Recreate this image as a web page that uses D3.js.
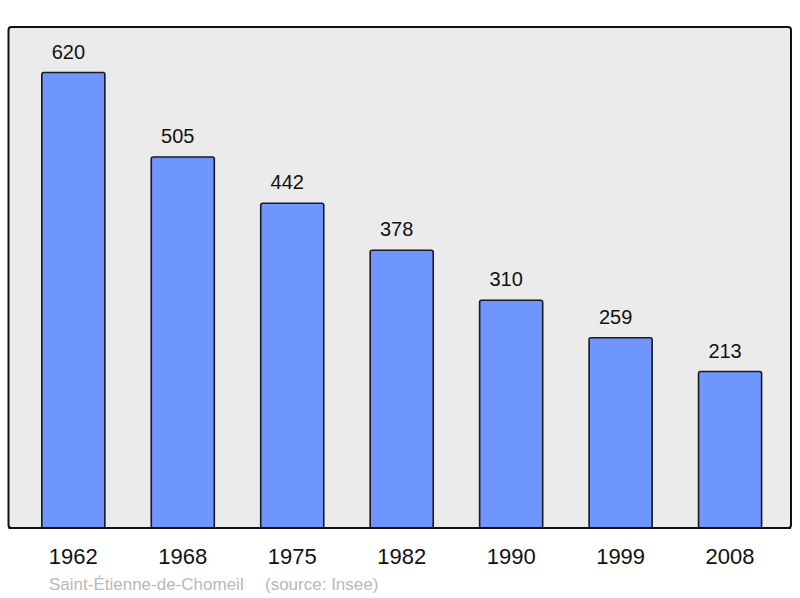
<!DOCTYPE html>
<html>
<head>
<meta charset="utf-8">
<script src="https://cdn.jsdelivr.net/npm/d3@7"></script>
<style>
  body { margin: 0; background: #fff; }
  text { font-family: "Liberation Sans", Arial, sans-serif; }
</style>
</head>
<body>
<svg width="800" height="598"></svg>
<script>
//Population data
let years = ["1962", "1968", "1975", "1982", "1990", "1999", "2008"];
let population = [620, 505, 442, 378, 310, 259, 213];
let commune = "Saint-Étienne-de-Chomeil";
let source = "(source: Insee)";

let svg = d3.select("svg");

//Frame of the plot area
let frame = {left: 8.5, top: 27, right: 791, bottom: 528};

let x = d3.scaleBand()
    .domain(years)
    .range([18.6, 784.8])
    .paddingInner(0.424)
    .paddingOuter(0.212);

let y = d3.scaleLinear()
    .domain([0, 620 * 1.1])
    .range([frame.bottom, frame.top]);

//Grey background with dark border
svg.append("rect")
    .attr("x", frame.left)
    .attr("y", frame.top)
    .attr("width", frame.right - frame.left)
    .attr("height", frame.bottom - frame.top)
    .attr("rx", 3)
    .attr("fill", "#ebebeb")
    .attr("stroke", "#111")
    .attr("stroke-width", 2);

//Bars
svg.selectAll(".bar")
    .data(population)
    .enter().append("rect")
    .attr("class", "bar")
    .attr("x", (d, i) => x(years[i]))
    .attr("y", d => y(d))
    .attr("width", x.bandwidth())
    .attr("height", d => y(0) - y(d))
    .attr("rx", 2)
    .attr("fill", "#6f96ff")
    .attr("stroke", "#1a1a1a")
    .attr("stroke-width", 1.6);

//Redraw the bottom border over the bars
svg.append("line")
    .attr("x1", frame.left)
    .attr("x2", frame.right)
    .attr("y1", frame.bottom)
    .attr("y2", frame.bottom)
    .attr("stroke", "#111")
    .attr("stroke-width", 2);

//Values on top of the bars (slightly left of the bar centre, as in the original)
svg.selectAll(".value")
    .data(population)
    .enter().append("text")
    .attr("class", "value")
    .attr("x", (d, i) => x(years[i]) + x.bandwidth() / 2 - 5)
    .attr("y", d => y(d) - 14)
    .attr("text-anchor", "middle")
    .attr("font-size", 20)
    .attr("fill", "#111")
    .text(d => d);

//Year axis, without line and ticks
let xAxis = d3.axisBottom(x).tickSize(0).tickPadding(0);
let gx = svg.append("g")
    .attr("transform", "translate(0," + frame.bottom + ")")
    .call(xAxis);
gx.select(".domain").remove();
gx.selectAll("text")
    .attr("dy", null)
    .attr("y", 36)
    .attr("font-size", 22)
    .attr("font-family", "Liberation Sans, Arial, sans-serif")
    .attr("fill", "#111");

//Footer
svg.append("text")
    .attr("x", 49)
    .attr("y", 590)
    .attr("font-size", 17)
    .attr("fill", "#b8b8b8")
    .text(commune);

svg.append("text")
    .attr("x", 265)
    .attr("y", 590)
    .attr("font-size", 17)
    .attr("fill", "#b8b8b8")
    .text(source);
</script>
</body>
</html>
